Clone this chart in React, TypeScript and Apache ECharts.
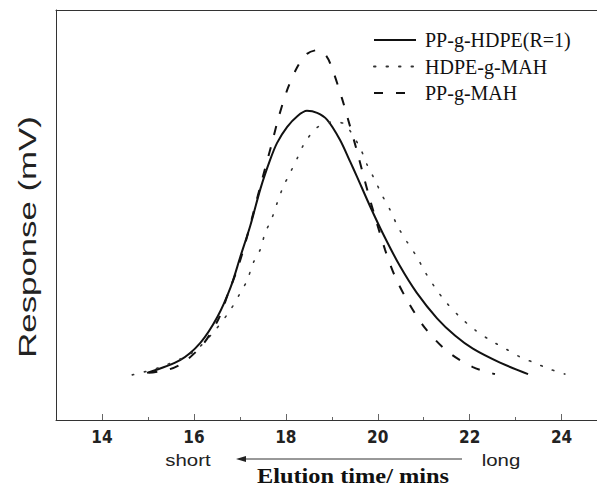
import React, { useEffect, useRef } from "react";
import * as echarts from "echarts";

const seriesNames = ["PP-g-HDPE(R=1)", "HDPE-g-MAH", "PP-g-MAH"];

const ppHdpeTime = [14.98, 15.7, 16.14, 16.51, 16.8, 17.01, 17.23, 17.45, 17.66, 17.81, 18.03, 18.25, 18.46, 18.68, 18.9, 19.18, 19.4, 19.55, 19.83, 20.12, 20.48, 20.85, 21.29, 21.68, 22.07, 22.66, 23.27];
const ppHdpeResp = [11.5, 14.6, 18.8, 25.1, 32.4, 39.8, 47.5, 56.5, 63.5, 67.6, 71.5, 74.1, 75.4, 74.9, 73.2, 68.3, 63.0, 59.3, 52.2, 45.3, 37.6, 31.0, 24.8, 20.6, 17.4, 14.0, 11.2];

const hdpeMahTime = [14.66, 15.27, 15.99, 16.47, 16.79, 17.01, 17.16, 17.29, 17.44, 17.55, 17.7, 17.81, 17.94, 18.09, 18.26, 18.42, 18.7, 19.03, 19.29, 19.4, 19.62, 19.77, 19.94, 20.09, 20.27, 20.44, 20.64, 20.85, 21.03, 21.24, 21.48, 21.79, 22.11, 22.44, 22.79, 23.09, 23.42, 23.74, 24.07];
const hdpeMahResp = [11.0, 12.9, 16.6, 22.0, 26.8, 31.0, 34.1, 38.3, 41.5, 45.6, 49.3, 52.9, 56.8, 60.2, 64.1, 67.8, 71.5, 72.7, 72.2, 70.5, 66.3, 62.2, 58.5, 54.9, 51.2, 47.1, 43.4, 39.8, 36.1, 32.4, 28.8, 25.1, 22.0, 19.5, 17.3, 15.4, 13.9, 12.4, 11.2];

const ppMahTime = [15.01, 15.45, 15.77, 16.2, 16.53, 16.75, 16.96, 17.12, 17.27, 17.48, 17.7, 17.83, 18.03, 18.25, 18.46, 18.68, 18.88, 19.03, 19.22, 19.35, 19.53, 19.68, 19.83, 20.16, 20.38, 20.66, 21.03, 21.53, 22.07, 22.55];
const ppMahResp = [11.5, 12.3, 14.0, 18.5, 24.5, 31.0, 37.3, 43.2, 49.5, 58.5, 67.6, 73.3, 80.5, 86.1, 89.3, 90.2, 88.8, 85.0, 78.5, 73.5, 66.3, 60.0, 53.8, 41.5, 34.9, 28.8, 22.4, 16.6, 12.9, 11.2];

const majorTicks = [14, 16, 18, 20, 22, 24];
const minorTicks = [15, 17, 19, 21, 23];

const X_MIN = 13;
const X_MAX = 24.77;

function zip(a: number[], b: number[]) {
  return a.map((x, i) => [x, b[i]]);
}

export default function App() {
  const ref = useRef<HTMLDivElement>(null);
  useEffect(() => {
    document.body.style.margin = "0";
    const chart = echarts.init(ref.current!, null, { renderer: "svg" });
    const axisColor = "#333";
    const centered = { align: "center", verticalAlign: "middle", textAlign: "center", textVerticalAlign: "middle" };
    chart.setOption({
      animation: false,
      backgroundColor: "#fff",
      grid: { left: 56, right: 0, top: 10, bottom: 67 },
      xAxis: [
        {
          type: "value", min: X_MIN, max: X_MAX, position: "bottom",
          axisLine: { show: true, lineStyle: { color: axisColor, width: 1 } },
          axisTick: { show: true, inside: true, length: 6, customValues: majorTicks, lineStyle: { color: "#666" } },
          axisLabel: {
            show: true, customValues: majorTicks, margin: 8, fontSize: 17, fontWeight: "bold",
            fontFamily: "'Liberation Sans Narrow', 'DejaVu Sans Condensed', sans-serif", color: "#222",
          },
          splitLine: { show: false },
        },
        {
          type: "value", min: X_MIN, max: X_MAX, position: "bottom",
          axisLine: { show: false },
          axisTick: { show: true, inside: true, length: 3, customValues: minorTicks, lineStyle: { color: "#666" } },
          axisLabel: { show: false },
          splitLine: { show: false },
        },
        {
          type: "value", min: X_MIN, max: X_MAX, position: "top",
          axisLine: { show: true, lineStyle: { color: axisColor, width: 1 } },
          axisTick: { show: false }, axisLabel: { show: false }, splitLine: { show: false },
        },
      ],
      yAxis: {
        type: "value", min: 0, max: 100,
        axisLine: { show: true, lineStyle: { color: axisColor, width: 1 } },
        axisTick: { show: false }, axisLabel: { show: false }, splitLine: { show: false },
      },
      legend: {
        orient: "vertical", left: 368, top: 25, itemWidth: 42, itemHeight: 20, itemGap: 6.5,
        data: seriesNames,
        itemStyle: { opacity: 0, color: "transparent", borderWidth: 0 },
        textStyle: { fontFamily: "'Liberation Serif', serif", fontSize: 20, color: "#111", padding: [0, 0, 0, 4] },
      },
      series: [
        {
          name: seriesNames[0], type: "line", xAxisIndex: 0, symbol: "none", smooth: 0.3,
          data: zip(ppHdpeTime, ppHdpeResp),
          itemStyle: { color: "#111" },
          lineStyle: { color: "#111", width: 2, type: "solid" },
        },
        {
          name: seriesNames[1], type: "line", xAxisIndex: 0, symbol: "none", smooth: 0.3,
          data: zip(hdpeMahTime, hdpeMahResp),
          itemStyle: { color: "#333" },
          lineStyle: { color: "#333", width: 1.6, type: [1.5, 11], cap: "round" },
        },
        {
          name: seriesNames[2], type: "line", xAxisIndex: 0, symbol: "none", smooth: 0.3,
          data: zip(ppMahTime, ppMahResp),
          itemStyle: { color: "#111" },
          lineStyle: { color: "#111", width: 2, type: [9, 13] },
        },
      ],
      graphic: [
        {
          type: "text", x: 28, y: 237, rotation: Math.PI / 2, scaleX: 1.45,
          style: { text: "Response (mV)", font: "24px 'Liberation Sans', sans-serif", fill: "#222", ...centered },
        },
        {
          type: "text", x: 188, y: 460, scaleX: 1.2,
          style: { text: "short", font: "17px 'Liberation Sans', sans-serif", fill: "#222", ...centered },
        },
        {
          type: "text", x: 501, y: 460, scaleX: 1.2,
          style: { text: "long", font: "17px 'Liberation Sans', sans-serif", fill: "#222", ...centered },
        },
        {
          type: "line", shape: { x1: 245, y1: 459, x2: 462, y2: 459 },
          style: { stroke: "#333", lineWidth: 1 },
        },
        {
          type: "polygon", shape: { points: [[236, 459], [246, 456], [246, 462]] },
          style: { fill: "#222" },
        },
        {
          type: "text", x: 353, y: 476, scaleX: 1.16,
          style: { text: "Elution time/ mins", font: "bold 21px 'Liberation Serif', serif", fill: "#111", ...centered },
        },
      ],
    });
    return () => chart.dispose();
  }, []);
  return <div ref={ref} style={{ width: 597, height: 487 }} />;
}
